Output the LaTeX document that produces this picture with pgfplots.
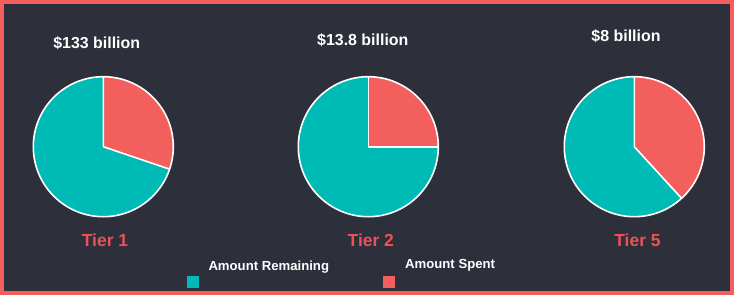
\documentclass[border=0pt]{standalone}
\usepackage{fontspec}
\setmainfont{Liberation Sans}
\usepackage{pgfplots}
\usepackage{pgfplotstable}
\pgfplotsset{compat=1.18}
\definecolor{bg}{HTML}{2D303B}
\definecolor{tealc}{HTML}{00BAB5}
\definecolor{redc}{HTML}{F25F5C}
\definecolor{tierc}{HTML}{EB5257}

% spent / remaining shares (percent) and pie centre (px)
\pgfplotstableread{
tier spent remaining cx
1 30.2 69.8 103.3
2 25.0 75.0 368.3
5 38.2 61.8 634.3
}\piedata

\pgfplotstablegetelem{0}{spent}\of\piedata \edef\sA{\pgfplotsretval}
\pgfplotstablegetelem{1}{spent}\of\piedata \edef\sB{\pgfplotsretval}
\pgfplotstablegetelem{2}{spent}\of\piedata \edef\sC{\pgfplotsretval}
\pgfplotstablegetelem{0}{cx}\of\piedata \edef\cA{\pgfplotsretval}
\pgfplotstablegetelem{1}{cx}\of\piedata \edef\cB{\pgfplotsretval}
\pgfplotstablegetelem{2}{cx}\of\piedata \edef\cC{\pgfplotsretval}

\newcommand\pie[2]{%
  \fill[redc] (axis cs:#1,146.7) -- ++(90:70bp) arc[start angle=90, end angle={90-3.6*#2}, radius=70bp] -- cycle;
  \fill[tealc] (axis cs:#1,146.7) -- ++({90-3.6*#2}:70bp) arc[start angle={90-3.6*#2}, end angle=-270, radius=70bp] -- cycle;
  \draw[white, line width=1.6bp] (axis cs:#1,146.7) circle[radius=70bp];
  \draw[white, line width=1.6bp] (axis cs:#1,146.7) -- ++(90:70bp) (axis cs:#1,146.7) -- ++({90-3.6*#2}:70bp);
}

\begin{document}
\begin{tikzpicture}
\useasboundingbox (0,0) rectangle (734bp,295bp);
\fill[bg] (0,0) rectangle (734bp,295bp);
\begin{axis}[
  x=1bp, y=1bp, xmin=0, xmax=734, ymin=0, ymax=295,
  y dir=reverse, hide axis, clip=false,
  at={(0,0)}, anchor=south west,
]
\pie{\cA}{\sA}
\pie{\cB}{\sB}
\pie{\cC}{\sC}
\tikzset{ttl/.style={anchor=base, text=white, font=\bfseries\fontsize{16}{18}\selectfont, inner sep=0pt},
         tr/.style={anchor=base, text=tierc, font=\bfseries\fontsize{17.5}{20}\selectfont, inner sep=0pt},
         lg/.style={anchor=base west, text=white, font=\bfseries\fontsize{13.2}{15}\selectfont, inner sep=0pt}}
\node[ttl] at (axis cs:96.7,48) {\$133 billion};
\node[ttl] at (axis cs:362.8,45) {\$13.8 billion};
\node[ttl] at (axis cs:626,41.5) {\$8 billion};
\node[tr] at (axis cs:105,246.5) {Tier 1};
\node[tr] at (axis cs:370.8,246.5) {Tier 2};
\node[tr] at (axis cs:637.5,246.5) {Tier 5};
\fill[tealc] (axis cs:187,276) rectangle (axis cs:199,288);
\fill[redc] (axis cs:383.3,276) rectangle (axis cs:395.3,288);
\node[lg] at (axis cs:208.3,270) {Amount Remaining};
\node[lg] at (axis cs:405,268.3) {Amount Spent};
\end{axis}
\draw[redc, line width=4bp] (2bp,2bp) rectangle (732bp,293bp);
\end{tikzpicture}
\end{document}
